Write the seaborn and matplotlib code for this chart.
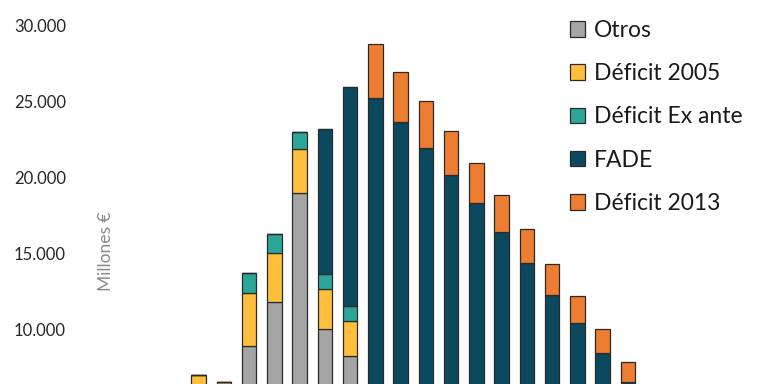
import numpy as np
import pandas as pd
import matplotlib
matplotlib.use("Agg")
import matplotlib.pyplot as plt
import seaborn as sns
from matplotlib.patches import Patch

sns.set_style("white")
plt.rcParams['font.family'] = ['Lato', 'DejaVu Sans']

years = [str(y) for y in range(2006, 2024)]
otros = [3500, 3000, 8882, 11798, 18925, 9980, 8243, 0, 0, 0, 0, 0, 0, 0, 0, 0, 0, 0]
deficit_2005 = [3474, 3493, 3508, 3180, 2895, 2630, 2305, 0, 0, 0, 0, 0, 0, 0, 0, 0, 0, 0]
deficit_ex_ante = [0, 0, 1272, 1250, 1162, 1008, 987, 0, 0, 0, 0, 0, 0, 0, 0, 0, 0, 0]
fade = [0, 0, 0, 0, 0, 9540, 14407, 25217, 23600, 21928, 20132, 18268, 16360, 14320, 12237, 10375, 8447, 6533]
deficit_2013 = [0, 0, 0, 0, 0, 0, 0, 3513, 3288, 3072, 2916, 2675, 2456, 2238, 2020, 1796, 1533, 1316]

series_names = ["Otros", "Déficit 2005", "Déficit Ex ante", "FADE", "Déficit 2013"]
series_vals = [otros, deficit_2005, deficit_ex_ante, fade, deficit_2013]
colors = ["#A5A5A5", "#FFBE3B", "#2BA699", "#0B4A5E", "#ED7D31"]

df = pd.DataFrame({"year": years})
for n, v in zip(series_names, series_vals):
    df[n] = v

fig = plt.figure(figsize=(7.68, 3.84), dpi=100)
left_px = 73
ax = fig.add_axes([left_px / 768, 0, 1 - left_px / 768, 1])

bottom = np.zeros(len(years))
for n, c in zip(series_names, colors):
    sns.barplot(data=df, x="year", y=n, order=years, color=c, bottom=bottom,
                width=0.575, edgecolor="#2a2a2a", linewidth=0.9,
                errorbar=None, saturation=1, ax=ax)
    bottom = bottom + df[n].to_numpy()

spacing = 25.25
ax.set_xlim(-(198.7 - left_px) / spacing, (768 - 198.7) / spacing)
ax.set_ylim(6382, 31645)
ax.set_yticks([10000, 15000, 20000, 25000, 30000])
ax.set_yticklabels(["10.000", "15.000", "20.000", "25.000", "30.000"])
ax.tick_params(axis="y", length=0, pad=5, labelsize=12, labelcolor="#262626")
ax.set_xticks([])
ax.set_xlabel("")
for s in ax.spines.values():
    s.set_visible(False)

ax.set_ylabel("Millones €", fontsize=12.5, color="#8a8a8a")
ax.yaxis.set_label_coords((114 - left_px) / (768 - left_px), (384 - 251) / 384)

handles = [Patch(facecolor=c, edgecolor="#2a2a2a", linewidth=0.9) for c in colors]
fig.legend(handles, series_names, loc="upper left", bbox_to_anchor=(570 / 768, 1 - 20 / 384),
           frameon=False, fontsize=16.5, handlelength=0.66, handleheight=0.66,
           handletextpad=0.38, labelspacing=0.97, borderaxespad=0, borderpad=0,
           labelcolor="#1a1a1a")

fig.savefig("out.png", dpi=100)
